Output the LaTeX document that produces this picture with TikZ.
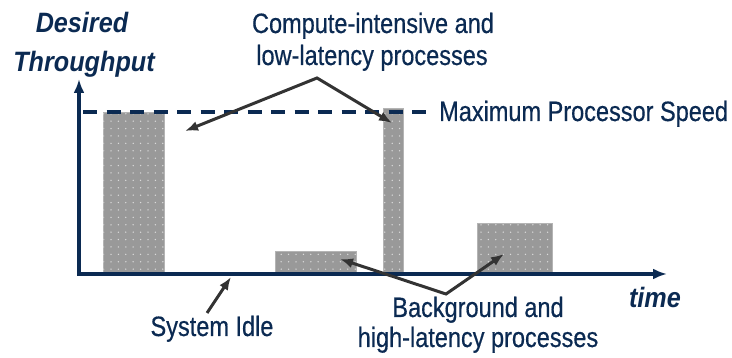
\documentclass[tikz,border=0pt]{standalone}
\usepackage{fontspec}
\setmainfont{Liberation Sans}[FakeStretch=0.84,FakeBold=0.5]
\newfontfamily\titlefont{Liberation Sans}[FakeStretch=0.9]
\usetikzlibrary{arrows.meta,patterns}
\definecolor{navy}{HTML}{0B2A52}
\definecolor{ptrgray}{HTML}{333333}
\definecolor{barfill}{HTML}{999999}
\definecolor{baredge}{HTML}{B4B4B4}
\definecolor{dotcol}{HTML}{DADADA}
\pgfdeclarepatternformonly{bardots}{\pgfqpoint{-1pt}{-1pt}}{\pgfqpoint{1pt}{1pt}}{\pgfqpoint{7.4pt}{7.4pt}}{\pgfpathcircle{\pgfqpoint{0pt}{0pt}}{0.75pt}\pgfusepath{fill}}
\begin{document}
\begin{tikzpicture}[x=1pt,y=-1pt,
  lbl/.style={inner sep=0pt,text=navy,font=\fontsize{28}{34}\selectfont},
  ttl/.style={inner sep=0pt,text=navy,font=\fontsize{28}{34}\selectfont\titlefont\bfseries\itshape},
  barbox/.style={draw=baredge,line width=0.8pt,fill=barfill,inner sep=0pt,anchor=south west,
     postaction={pattern=bardots,pattern color=dotcol}},
  axisline/.style={draw=navy,line width=3.6pt,line join=miter,{Latex[length=14pt,width=11pt]}-{Latex[length=14pt,width=11pt]}},
  maxline/.style={draw=navy,line width=3.6pt,dash pattern=on 14pt off 9.5pt},
  pointer/.style={draw=ptrgray,line width=3pt,line join=miter},
  tip/.style={-{Latex[length=13pt,width=10pt]}}
]
\useasboundingbox (0,0) rectangle (732,358);

% bars
\node[barbox,minimum width=61pt,minimum height=161pt] (bar1) at (103,274) {};
\node[barbox,minimum width=20pt,minimum height=165pt] (bar2) at (383,274) {};
\node[barbox,minimum width=81pt,minimum height=22pt] (bar3) at (275,274) {};
\node[barbox,minimum width=75pt,minimum height=50pt] (bar4) at (477,274) {};

% axes
\coordinate (origin) at (79,274);
\coordinate (ytip) at (79,79);
\coordinate (xtip) at (667,274);
\draw[axisline] (ytip) -- (origin) -- (xtip);

% maximum speed line
\coordinate (d0) at (83,112);
\coordinate (d1) at (428,112);
\draw[maxline] (d0) -- (d1);

% labels
\node[ttl,anchor=base] (desired) at (82,33) {Desired};
\node[ttl,anchor=base] (through) at (84,72) {Throughput};
\node[ttl,anchor=base] (time) at (655,308) {time};
\node[lbl,anchor=base] (comp1) at (373,33) {Compute-intensive and};
\node[lbl,anchor=base] (comp2) at (372,65) {low-latency processes};
\node[lbl,anchor=base west] (maxspeed) at (439,121) {Maximum Processor Speed};
\node[lbl,anchor=base] (idle) at (212,336) {System Idle};
\node[lbl,anchor=base] (bg1) at (478,317) {Background and};
\node[lbl,anchor=base] (bg2) at (478,347) {high-latency processes};

% pointers
\coordinate (apexA) at (317,78);
\coordinate (tipA1) at (185,131);
\coordinate (tipA2) at (392,123);
\draw[pointer,{Latex[length=13pt,width=10pt]}-{Latex[length=13pt,width=10pt]}] (tipA1) -- (apexA) -- (tipA2);

\coordinate (apexB) at (446,294);
\coordinate (tipB1) at (340,259);
\coordinate (tipB2) at (504,254);
\draw[pointer,{Latex[length=13pt,width=10pt]}-{Latex[length=13pt,width=10pt]}] (tipB1) -- (apexB) -- (tipB2);

\coordinate (idlefoot) at (207,313);
\coordinate (idletip) at (231,277);
\draw[pointer,tip] (idlefoot) -- (idletip);
\end{tikzpicture}
\end{document}
